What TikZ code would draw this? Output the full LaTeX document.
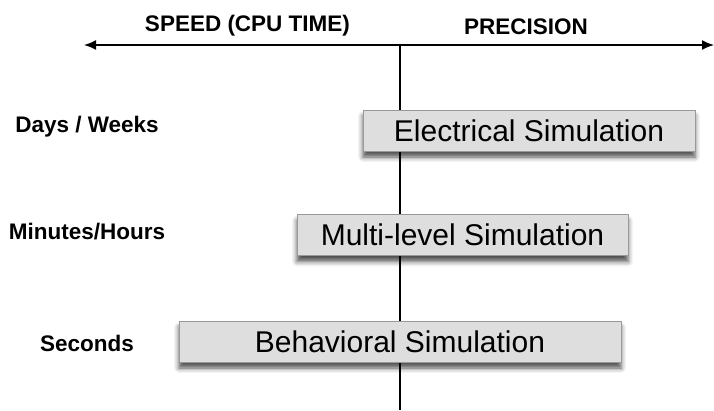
\documentclass[tikz,border=0pt]{standalone}
\usepackage{fontspec}
\setmainfont{Liberation Sans}
\usetikzlibrary{arrows.meta}
\usetikzlibrary{shadows.blur}

\begin{document}
\begin{tikzpicture}[x=1pt, y=-1pt,
  simbox/.style={draw=black!40, line width=0.8pt, fill=black!13, inner sep=0pt,
    minimum height=41pt, font=\fontsize{30}{34}\selectfont,
    blur shadow={shadow xshift=0pt, shadow yshift=-6pt, shadow blur radius=5pt, shadow opacity=70}},
  axlabel/.style={font=\bfseries\fontsize{22.5}{26}\selectfont, inner sep=0pt},
  axis/.style={black, line width=1.6pt}]
\useasboundingbox (0,0) rectangle (714,410);
\coordinate (axl) at (84,45);
\coordinate (axr) at (714,45);
\coordinate (axc) at (400,45);
\coordinate (axb) at (400,410);
\draw[axis, {Latex[length=12pt,width=10pt]}-{Latex[length=12pt,width=10pt]}] (axl)--(axr);
\draw[axis] (axc)--(axb);
\node[axlabel] (speed) at (247.5,26) {SPEED (CPU TIME)};
\node[axlabel] (precision) at (526,26.5) {PRECISION};
\node[axlabel] (days) at (87,127) {Days / Weeks};
\node[axlabel] (minutes) at (87,232) {Minutes/Hours};
\node[axlabel] (secs) at (87,343) {Seconds};
\node[simbox, minimum width=332pt] (elec) at (529,130.5) {Electrical Simulation};
\node[simbox, minimum width=331pt] (multi) at (462.5,235) {Multi-level Simulation};
\node[simbox, minimum width=442pt] (behav) at (400,341.5) {Behavioral Simulation};
\end{tikzpicture}
\end{document}
